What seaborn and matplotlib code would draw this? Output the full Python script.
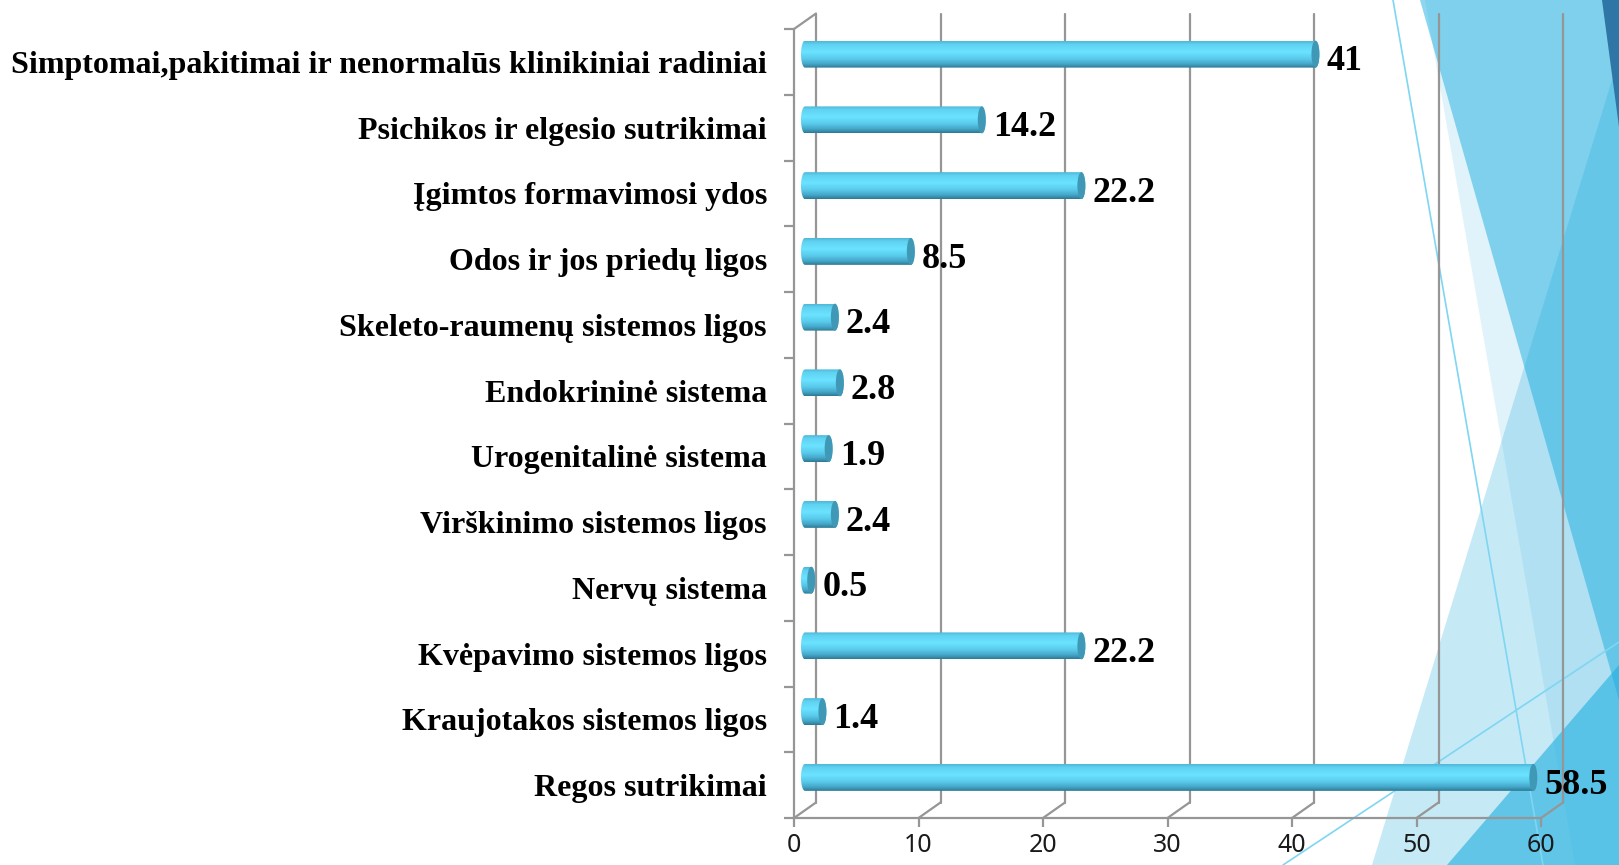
import numpy as np
import pandas as pd
import seaborn as sns
import matplotlib.pyplot as plt
from matplotlib.patches import Polygon, PathPatch, Ellipse
from matplotlib.path import Path
from matplotlib.colors import LinearSegmentedColormap

categories = [
    "Simptomai,pakitimai ir nenormalūs klinikiniai radiniai",
    "Psichikos ir elgesio sutrikimai",
    "Įgimtos formavimosi ydos",
    "Odos ir jos priedų ligos",
    "Skeleto-raumenų sistemos ligos",
    "Endokrininė sistema",
    "Urogenitalinė sistema",
    "Virškinimo sistemos ligos",
    "Nervų sistema",
    "Kvėpavimo sistemos ligos",
    "Kraujotakos sistemos ligos",
    "Regos sutrikimai",
]
values = [41, 14.2, 22.2, 8.5, 2.4, 2.8, 1.9, 2.4, 0.5, 22.2, 1.4, 58.5]
x_ticks = [0, 10, 20, 30, 40, 50, 60]

sns.set_theme(style="white")
plt.rcParams['font.family'] = ['Liberation Serif', 'DejaVu Serif']

W, H = 1619, 865
fig = plt.figure(figsize=(W / 100, H / 100), dpi=100)

# slide decoration on the right (theme triangles)
bg = fig.add_axes([0, 0, 1, 1], zorder=0)
bg.set_xlim(0, W)
bg.set_ylim(H, 0)
bg.axis('off')
shapes = [
    ([(1425, 0), (1619, 0), (1619, 865), (1575, 865)], '#2fb0e0', 0.14),
    ([(1372, 865), (1619, 57), (1619, 865)], '#2fb0e0', 0.27),
    ([(1420, 0), (1619, 0), (1619, 700)], '#1eaee0', 0.5),
    ([(1447, 865), (1619, 665), (1619, 865)], '#1eaee0', 0.6),
    ([(1602, 0), (1619, 0), (1619, 127)], '#2f75a5', 1.0),
]
for pts, c, a in shapes:
    bg.add_patch(Polygon(pts, closed=True, fc=c, alpha=a, lw=0))
bg.plot([1393, 1543], [0, 865], color='#7fd6f2', lw=1.2)
bg.plot([1283, 1619], [865, 642], color='#7fd6f2', lw=1.2)

# chart
ax = fig.add_axes([794 / W, 47 / H, 747 / W, 789 / H], zorder=1)
ax.patch.set_alpha(0)
df = pd.DataFrame({'cat': categories, 'val': values})
sns.barplot(data=df, x='val', y='cat', orient='h', width=0.41,
            color='#5fd0f0', ax=ax)

n = len(categories)
px_x = 747 / 60
px_y = 789 / n
dx = 22 / px_x
dy = 15.5 / px_y
grid_c = '#969696'
lw = 1.6

for s in ax.spines.values():
    s.set_visible(False)

# 3d frame: front left + floor edge, back wall grid lines, depth diagonals
ax.plot([0, 0], [-0.5, n - 0.5], color=grid_c, lw=lw, clip_on=False, zorder=1)
ax.plot([0, 60], [n - 0.5, n - 0.5], color=grid_c, lw=lw, clip_on=False, zorder=1)
ax.plot([0, dx], [-0.5, -0.5 - dy], color=grid_c, lw=lw, clip_on=False, zorder=1)
for t in x_ticks:
    ax.plot([t + dx, t + dx], [n - 0.5 - dy, -0.5 - dy], color=grid_c, lw=lw,
            clip_on=False, zorder=1)
    ax.plot([t, t + dx], [n - 0.5, n - 0.5 - dy], color=grid_c, lw=lw,
            clip_on=False, zorder=1)

# cylinder look for the bars
cyl = LinearSegmentedColormap.from_list('cyl', [
    (0, '#50b8d8'), (0.12, '#60d2f2'), (0.4, '#6be3ff'),
    (0.65, '#5acbec'), (0.85, '#45a8ca'), (1, '#2e7a94')])
grad = np.linspace(0, 1, 64).reshape(-1, 1)
rx = 4 / px_x
for p in list(ax.patches):
    w = p.get_width()
    h = p.get_height()
    x0 = p.get_x() + dx / 2
    x1 = x0 + w
    yc = p.get_y() + h / 2 - dy / 2
    p.set_visible(False)
    tl = np.linspace(np.pi / 2, 3 * np.pi / 2, 24)
    tr = np.linspace(-np.pi / 2, np.pi / 2, 24)
    left = np.column_stack([x0 + rx * np.cos(tl), yc + h / 2 * np.sin(tl)])
    right = np.column_stack([x1 + rx * np.cos(tr), yc + h / 2 * np.sin(tr)])
    verts = np.vstack([left, right, left[:1]])
    clip = PathPatch(Path(verts), fc='none', ec='none', transform=ax.transData)
    ax.add_patch(clip)
    im = ax.imshow(grad, cmap=cyl, aspect='auto', origin='upper',
                   extent=(x0 - rx, x1 + rx, yc + h / 2, yc - h / 2),
                   interpolation='bilinear', zorder=3)
    im.set_clip_path(clip)
    ax.add_patch(Ellipse((x1, yc), 2 * rx, h, fc='#3f98b6', ec='none', zorder=4))
    ax.text(x1 + rx + 7 / px_x, p.get_y() + h / 2, f"{w:g}", ha='left', va='center',
            fontsize=26, fontweight='bold', color='black', zorder=5, clip_on=False)

ax.set_xlim(0, 60)
ax.set_ylim(n - 0.5, -0.5)
ax.set_xticks(x_ticks)
ax.set_xticklabels([str(t) for t in x_ticks], fontfamily='Noto Sans', fontsize=18,
                   color='#1a1a1a')
ax.tick_params(axis='x', length=6.5, width=lw, color=grid_c, pad=4, bottom=True)
ax.set_yticks(range(n))
ax.set_yticklabels(categories, fontsize=23, fontweight='bold', color='black')
ax.set_yticks(np.arange(n + 1) - 0.5, minor=True)
ax.tick_params(axis='y', which='major', length=0, pad=19.5)
ax.tick_params(axis='y', which='minor', length=7.5, width=lw, color=grid_c, left=True)
ax.set_xlabel('')
ax.set_ylabel('')
ax.grid(False)

fig.savefig('out.png', dpi=100)
